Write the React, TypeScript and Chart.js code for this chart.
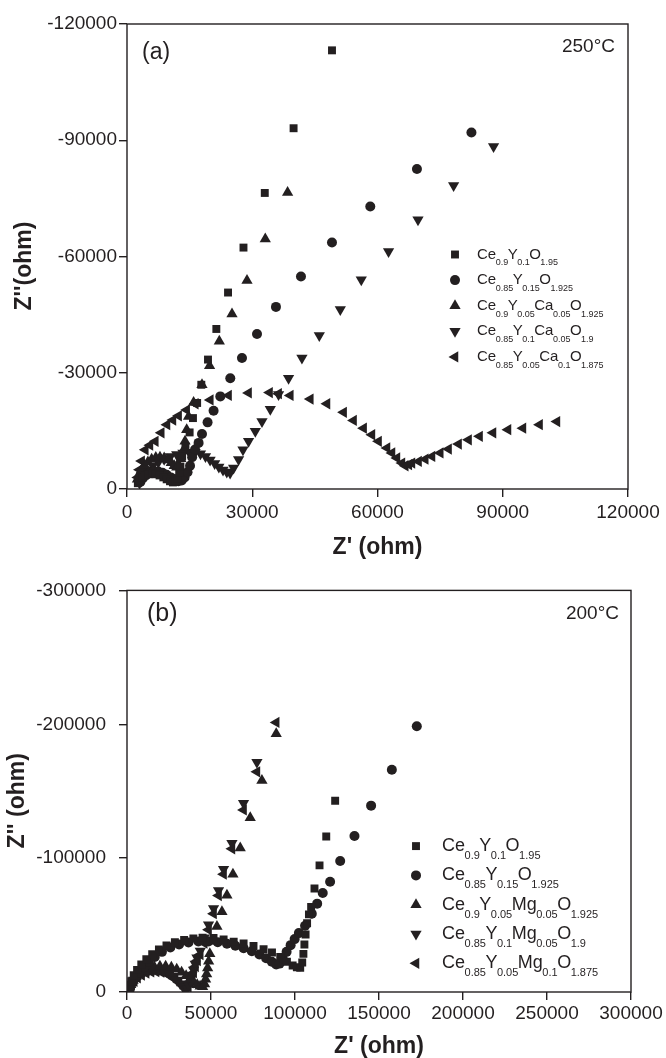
import React, { useEffect, useRef } from "react";
import { Chart, registerables } from "chart.js";

Chart.register(...registerables);

const INK = "#231f20";
const FONT = "'Liberation Sans', Arial, Helvetica, sans-serif";

// ---------------- Panel (a) : 250 °C ----------------
const xTicksA = [0, 30000, 60000, 90000, 120000];
const yTicksA = [-120000, -90000, -60000, -30000, 0];
const labelsA = [
  "Ce_{0.9}Y_{0.1}O_{1.95}",
  "Ce_{0.85}Y_{0.15}O_{1.925}",
  "Ce_{0.9}Y_{0.05}Ca_{0.05}O_{1.925}",
  "Ce_{0.85}Y_{0.1}Ca_{0.05}O_{1.9}",
  "Ce_{0.85}Y_{0.05}Ca_{0.1}O_{1.875}",
];

const seriesA1: [number, number][] = [
  [2600, -1500], [3000, -2300], [3600, -3000], [4300, -3500], [5100, -3800], [6000, -3900],
  [6900, -3800], [7800, -3500], [8700, -3000], [9500, -2500], [10300, -2000], [11000, -1700],
  [11600, -1900], [12100, -2800], [12500, -4200], [12800, -5800], [13200, -8400], [14000, -11000],
  [15000, -14600], [15800, -18300], [16800, -22200], [17800, -26900], [19400, -33400],
  [21400, -41300], [24200, -50700], [27900, -62300], [33000, -76400], [39900, -93100], [49100, -113200],
];
const seriesA2: [number, number][] = [
  [3200, -1800], [3800, -2800], [4600, -3600], [5500, -4200], [6500, -4500], [7500, -4500],
  [8500, -4200], [9500, -3700], [10500, -3000], [11400, -2400], [12300, -2000], [13100, -2200],
  [13800, -3000], [14500, -4300], [15100, -6000], [15600, -8200], [16300, -10200], [17150, -11900],
  [17960, -14200], [19300, -17200], [20740, -20200], [22350, -23900], [24740, -28600],
  [27540, -33800], [31140, -40000], [35680, -47000], [41670, -54850], [49100, -63600],
  [58270, -72900], [69450, -82600], [82500, -92000],
];
const seriesA3: [number, number][] = [
  [2500, -2500], [2900, -3800], [3500, -5000], [4200, -6100], [5000, -7000], [5900, -7700],
  [6900, -8100], [7900, -8200], [8900, -8000], [9800, -7500], [10600, -6800], [11300, -6000],
  [11900, -5600], [12400, -6200], [12900, -7800], [13400, -9800], [13900, -12300], [14300, -15300],
  [14750, -18700], [15950, -22300], [17960, -26900], [19780, -31800], [22110, -38100],
  [25150, -45150], [28740, -53800], [33120, -64500], [38470, -76500],
];
const seriesA4: [number, number][] = [
  [3000, -1500], [3500, -2700], [4200, -3900], [5100, -5000], [6200, -6000], [7500, -6900],
  [8900, -7700], [10400, -8400], [11900, -8900], [13400, -9300], [14900, -9500], [16300, -9500],
  [17600, -9100], [18800, -8400], [19900, -7500], [21000, -6600], [22000, -5700], [23000, -4900],
  [23900, -4400], [24700, -4100], [25530, -5400], [26730, -7600], [27780, -10100], [29120, -12300],
  [30730, -14900], [32330, -17400], [34320, -20600], [36300, -24400], [38700, -28600],
  [41900, -33800], [46060, -39600], [51090, -46300], [56110, -54000], [62650, -61300],
  [69700, -69500], [78230, -78300], [87800, -88400],
];
const seriesA5: [number, number][] = [
  [2600, -3000], [3000, -5000], [3500, -7200], [4390, -10100], [5500, -11300], [6780, -12300],
  [8200, -14500], [9580, -16600], [11000, -17800], [12360, -18900], [14300, -20400],
  [16360, -22000], [19950, -23000], [24330, -24150], [29120, -24800], [34150, -24900],
  [36310, -24600], [39110, -24150], [43900, -23200], [47900, -22000], [51880, -19800],
  [54270, -17700], [56670, -15700], [58670, -14000], [60260, -12300], [62270, -10600],
  [63470, -9300], [64660, -8000], [65860, -6700], [66650, -6000], [67500, -6300], [68250, -6700],
  [69840, -7100], [71440, -7700], [73050, -8400], [75030, -9300], [77020, -10300], [79420, -11600],
  [81810, -12700], [84450, -13600], [87660, -14500], [91250, -15300], [94840, -15700],
  [98820, -16600], [102980, -17400],
];

// ---------------- Panel (b) : 200 °C ----------------
const xTicksB = [0, 50000, 100000, 150000, 200000, 250000, 300000];
const yTicksB = [-300000, -200000, -100000, 0];
const labelsB = [
  "Ce_{0.9}Y_{0.1}O_{1.95}",
  "Ce_{0.85}Y_{0.15}O_{1.925}",
  "Ce_{0.9}Y_{0.05}Mg_{0.05}O_{1.925}",
  "Ce_{0.85}Y_{0.1}Mg_{0.05}O_{1.9}",
  "Ce_{0.85}Y_{0.05}Mg_{0.1}O_{1.875}",
];

const seriesB1: [number, number][] = [
  [1500, -4000], [2500, -8000], [4000, -12500], [6000, -16500], [8500, -20500], [11500, -24500],
  [15000, -28300], [19000, -31800], [23500, -34800], [28500, -37200], [34000, -38900],
  [39500, -40000], [45000, -40500], [51500, -40400], [57500, -39200], [63500, -37500],
  [69400, -36200], [75300, -34400], [81300, -32000], [86300, -29500], [91200, -26200],
  [95200, -22600], [98600, -19800], [101100, -18500], [103100, -18000], [104300, -22000],
  [105000, -28500], [105600, -35500], [106300, -43000], [107200, -51400], [108300, -58000],
  [109600, -63600], [111600, -77300], [114600, -94600], [118600, -116100], [123900, -142900],
];
const seriesB2: [number, number][] = [
  [1800, -3000], [3000, -6500], [4900, -10500], [7200, -14500], [9900, -18500], [13000, -22500],
  [16500, -26200], [20800, -30000], [25800, -33300], [31000, -35500], [36600, -37000],
  [42500, -37800], [48500, -37800], [54000, -37200], [59500, -36000], [64500, -34500],
  [69400, -32700], [74300, -30500], [78800, -28000], [82800, -25300], [86200, -22600],
  [88800, -20600], [90800, -21200], [92700, -25000], [95000, -30000], [97400, -35000],
  [99800, -39500], [102300, -44000], [106000, -49500], [110000, -58500], [113200, -66000],
  [116500, -74000], [120900, -82400], [126900, -97800], [135400, -116500], [145300, -139200],
  [157650, -166000], [172500, -198500],
];
const seriesB3: [number, number][] = [
  [1200, -2500], [2200, -5500], [3600, -8500], [5400, -11300], [7600, -13800], [10200, -15900],
  [13100, -17500], [16300, -18600], [19600, -19200], [23000, -19200], [26400, -18500],
  [29600, -17000], [32500, -14800], [35200, -12200], [37600, -9600], [39800, -7300],
  [41800, -5500], [43500, -4300], [45000, -4000], [46200, -6000], [46800, -9500], [47400, -13500],
  [48000, -18000], [48600, -23000], [49300, -28500], [50570, -38000], [53540, -49000],
  [56520, -60000], [59490, -72200], [63060, -88000], [67400, -107500], [73350, -130200],
  [80310, -158000], [88820, -192900],
];
const seriesB4: [number, number][] = [
  [1300, -3000], [2400, -6000], [3900, -9000], [5800, -11800], [8000, -14000], [10500, -15700],
  [13300, -16800], [16200, -17200], [19100, -16900], [22000, -15900], [24800, -14200],
  [27400, -11800], [29700, -9000], [31700, -6200], [33300, -3800], [34600, -2000], [35700, -2500],
  [36700, -5000], [37600, -8500], [38600, -12400], [39620, -16500], [40600, -21000],
  [41640, -25500], [43600, -30700], [45970, -40500], [48540, -50300], [51520, -62400],
  [54490, -75900], [57470, -91700], [62460, -111200], [69370, -141000], [77330, -171700],
];
const seriesB5: [number, number][] = [
  [1500, -2500], [2700, -5200], [4300, -8000], [6300, -10500], [8700, -12600], [11400, -14100],
  [14300, -15000], [17300, -15200], [20300, -14800], [23200, -13700], [26000, -11900],
  [28600, -9600], [31000, -7100], [33100, -4700], [35000, -3000], [36500, -3500], [37600, -6800],
  [38600, -10500], [39700, -14500], [40800, -19000], [42000, -23500], [43600, -28000],
  [45970, -36500], [48540, -46500], [51520, -58500], [54490, -72000], [57470, -88000],
  [62460, -107000], [69370, -136000], [77330, -164500], [88820, -201400],
];

// marker shapes shared by both panels: ■ ● ▲ ▼ ◄
const markerShapes = [
  { style: "rect", rotation: 0, radius: 5.6 },
  { style: "circle", rotation: 0, radius: 5 },
  { style: "triangle", rotation: 0, radius: 6.5 },
  { style: "triangle", rotation: 180, radius: 6.5 },
  { style: "triangle", rotation: 270, radius: 6.5 },
];

type PanelSpec = {
  height: number;
  top: number;
  padding: { top: number; right: number; left: number; bottom: number };
  yWidth: number;
  xHeight: number;
  xTicks: number[];
  yTicks: number[];
  series: [number, number][][];
  labels: string[];
  xTitle: string;
  yTitle: string;
  xTitlePad: number;
  yTitlePad: number;
  xTickPad: number;
  yTickPad: number;
  tag: string;
  tagSize: number;
  tagDx: number;
  tagDy: number;
  temp: string;
  tempDx: number;
  tempDy: number;
  legend: { markerX: number; textX: number; top: number; gap: number; main: number; sub: number; drop: number };
};

const panelA: PanelSpec = {
  height: 566,
  top: 0,
  padding: { top: 24, right: 38, left: 0, bottom: 0 },
  yWidth: 127,
  xHeight: 77,
  xTicks: xTicksA,
  yTicks: yTicksA,
  series: [seriesA1, seriesA2, seriesA3, seriesA4, seriesA5],
  labels: labelsA,
  xTitle: "Z' (ohm)",
  yTitle: "Z''(ohm)   ",
  xTitlePad: 6.5,
  yTitlePad: 13.5,
  xTickPad: 4,
  yTickPad: 2,
  tag: "(a)",
  tagSize: 23,
  tagDx: 15,
  tagDy: 29,
  temp: "250°C",
  tempDx: 13,
  tempDy: 23,
  legend: { markerX: 328, textX: 350, top: 230.5, gap: 25.6, main: 15, sub: 9, drop: 8.5 },
};

const panelB: PanelSpec = {
  height: 492,
  top: 566,
  padding: { top: 16, right: 35, left: 0, bottom: 0 },
  yWidth: 127,
  xHeight: 66,
  xTicks: xTicksB,
  yTicks: yTicksB,
  series: [seriesB1, seriesB2, seriesB3, seriesB4, seriesB5],
  labels: labelsB,
  xTitle: "Z' (ohm)",
  yTitle: "Z'' (ohm)   ",
  xTitlePad: 0,
  yTitlePad: 6,
  xTickPad: 2,
  yTickPad: 13,
  tag: "(b)",
  tagSize: 25,
  tagDx: 20,
  tagDy: 24,
  temp: "200°C",
  tempDx: 12,
  tempDy: 23,
  legend: { markerX: 289, textX: 315, top: 255.7, gap: 29.3, main: 18, sub: 11, drop: 10 },
};

function drawMarker(ctx: CanvasRenderingContext2D, style: string, rotation: number, r: number, x: number, y: number) {
  ctx.beginPath();
  if (style === "circle") {
    ctx.arc(x, y, r, 0, Math.PI * 2);
  } else if (style === "rect") {
    const s = Math.SQRT1_2 * r;
    ctx.rect(x - s, y - s, 2 * s, 2 * s);
  } else {
    let rad = (rotation * Math.PI) / 180;
    ctx.moveTo(x + Math.sin(rad) * r, y - Math.cos(rad) * r);
    rad += (2 * Math.PI) / 3;
    ctx.lineTo(x + Math.sin(rad) * r, y - Math.cos(rad) * r);
    rad += (2 * Math.PI) / 3;
    ctx.lineTo(x + Math.sin(rad) * r, y - Math.cos(rad) * r);
    ctx.closePath();
  }
  ctx.fill();
}

function parseFormula(s: string): [string, string][] {
  const out: [string, string][] = [];
  const re = /([A-Za-z]+)_\{([^}]*)\}/g;
  let m: RegExpExecArray | null;
  while ((m = re.exec(s))) out.push([m[1], m[2]]);
  return out;
}

function buildConfig(spec: PanelSpec): any {
  const framePlugin = {
    id: "frame",
    afterDatasetsDraw(chart: any) {
      const { ctx, chartArea: a } = chart;
      ctx.save();
      ctx.strokeStyle = INK;
      ctx.lineWidth = 1.4;
      ctx.strokeRect(a.left, a.top, a.right - a.left, a.bottom - a.top);
      ctx.restore();
    },
  };

  const annotPlugin = {
    id: "annot",
    afterDraw(chart: any) {
      const { ctx, chartArea: a } = chart;
      ctx.save();
      ctx.fillStyle = INK;
      ctx.textBaseline = "middle";
      ctx.font = `${spec.tagSize}px ${FONT}`;
      ctx.textAlign = "left";
      ctx.fillText(spec.tag, a.left + spec.tagDx, a.top + spec.tagDy);
      ctx.font = `19px ${FONT}`;
      ctx.textAlign = "right";
      ctx.fillText(spec.temp, a.right - spec.tempDx, a.top + spec.tempDy);

      // legend with chemical subscripts
      const L = spec.legend;
      spec.labels.forEach((label, i) => {
        const y = a.top + L.top + i * L.gap;
        const mk = markerShapes[i];
        ctx.fillStyle = INK;
        drawMarker(ctx, mk.style, mk.rotation, mk.radius, a.left + L.markerX, y);
        let x = a.left + L.textX;
        ctx.textAlign = "left";
        for (const [el, sub] of parseFormula(label)) {
          ctx.font = `${L.main}px ${FONT}`;
          ctx.fillText(el, x, y);
          x += ctx.measureText(el).width - 0.5;
          ctx.font = `${L.sub}px ${FONT}`;
          ctx.fillText(sub, x, y + L.drop);
          x += ctx.measureText(sub).width - 0.5;
        }
      });
      ctx.restore();
    },
  };

  const datasets = spec.series.map((s, i) => ({
    label: spec.labels[i],
    data: s.map(([x, y]) => ({ x, y })),
    pointStyle: markerShapes[i].style,
    pointRotation: markerShapes[i].rotation,
    pointRadius: markerShapes[i].radius,
    pointHoverRadius: markerShapes[i].radius,
    backgroundColor: INK,
    borderColor: INK,
    pointBackgroundColor: INK,
    pointBorderColor: INK,
    pointBorderWidth: 0,
    showLine: false,
  }));

  const tickFont = { family: FONT, size: 19 };
  const titleFont = { family: FONT, size: 23, weight: "bold" as const, lineHeight: 1 };

  return {
    type: "scatter",
    data: { datasets },
    options: {
      responsive: false,
      animation: false,
      events: [],
      layout: { padding: spec.padding },
      plugins: { legend: { display: false }, tooltip: { enabled: false } },
      scales: {
        x: {
          type: "linear",
          position: "bottom",
          min: spec.xTicks[0],
          max: spec.xTicks[spec.xTicks.length - 1],
          afterBuildTicks: (s: any) => {
            s.ticks = spec.xTicks.map((v) => ({ value: v }));
          },
          afterFit: (s: any) => {
            s.height = spec.xHeight;
          },
          ticks: {
            autoSkip: false,
            maxRotation: 0,
            minRotation: 0,
            padding: spec.xTickPad,
            color: INK,
            font: tickFont,
            callback: (v: any) => String(v),
          },
          grid: {
            display: true,
            drawOnChartArea: false,
            drawTicks: true,
            tickLength: 8,
            color: INK,
            lineWidth: 1.4,
          },
          border: { display: false },
          title: {
            display: true,
            text: spec.xTitle,
            color: INK,
            font: titleFont,
            padding: { top: 0, bottom: spec.xTitlePad },
          },
        },
        y: {
          type: "linear",
          position: "left",
          reverse: true,
          min: spec.yTicks[0],
          max: spec.yTicks[spec.yTicks.length - 1],
          afterBuildTicks: (s: any) => {
            s.ticks = spec.yTicks.map((v) => ({ value: v }));
          },
          afterFit: (s: any) => {
            s.width = spec.yWidth;
          },
          ticks: {
            autoSkip: false,
            padding: spec.yTickPad,
            color: INK,
            font: tickFont,
            callback: (v: any) => String(v),
          },
          grid: {
            display: true,
            drawOnChartArea: false,
            drawTicks: true,
            tickLength: 8,
            color: INK,
            lineWidth: 1.4,
          },
          border: { display: false },
          title: {
            display: true,
            text: spec.yTitle,
            color: INK,
            font: titleFont,
            padding: { top: spec.yTitlePad, bottom: 0 },
          },
        },
      },
    },
    plugins: [framePlugin, annotPlugin],
  };
}

function Panel({ spec }: { spec: PanelSpec }) {
  const ref = useRef<HTMLCanvasElement>(null);
  useEffect(() => {
    if (!ref.current) return;
    const chart = new Chart(ref.current, buildConfig(spec));
    return () => chart.destroy();
  }, [spec]);
  return (
    <canvas
      ref={ref}
      width={666}
      height={spec.height}
      style={{ position: "absolute", left: 0, top: spec.top, width: 666, height: spec.height, display: "block" }}
    />
  );
}

export default function App() {
  return (
    <div style={{ position: "absolute", left: 0, top: 0, width: 666, height: 1058, background: "#ffffff" }}>
      <Panel spec={panelA} />
      <Panel spec={panelB} />
    </div>
  );
}
